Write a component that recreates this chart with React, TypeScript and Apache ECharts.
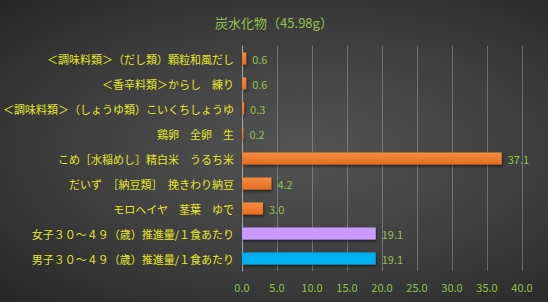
import React, { useEffect, useRef } from "react";
import * as echarts from "echarts";

const titleText = "炭水化物（45.98g）";
const categories = [
  "＜調味料類＞（だし類）顆粒和風だし",
  "＜香辛料類＞からし　練り",
  "＜調味料類＞（しょうゆ類）こいくちしょうゆ",
  "鶏卵　全卵　生",
  "こめ［水稲めし］精白米　うるち米",
  "だいず　［納豆類］　挽きわり納豆",
  "モロヘイヤ　茎葉　ゆで",
  "女子３０～４９（歳）推進量/１食あたり",
  "男子３０～４９（歳）推進量/１食あたり",
];
const values = [0.6, 0.6, 0.3, 0.2, 37.1, 4.2, 3.0, 19.1, 19.1];
const barKinds = ["food", "food", "food", "food", "food", "food", "food", "female", "male"];

const orange = new echarts.graphic.LinearGradient(0, 0, 0, 1, [
  { offset: 0, color: "#F68C40" },
  { offset: 1, color: "#E56C1F" },
]);
const kindColor: Record<string, any> = {
  food: orange,
  female: "#CC99FF",
  male: "#00B0F0",
};

export default function App() {
  const ref = useRef<HTMLDivElement>(null);
  useEffect(() => {
    document.body.style.margin = "0";
    const chart = echarts.init(ref.current!, null, { renderer: "svg" });
    const font = '"Noto Sans CJK JP", "Noto Sans", sans-serif';
    chart.setOption({
      animation: false,
      backgroundColor: "transparent",
      title: {
        text: titleText,
        left: "center",
        top: 11,
        textStyle: { color: "#8FC24A", fontSize: 13, fontWeight: "normal", fontFamily: font },
      },
      grid: { left: 242, right: 26, top: 46, bottom: 31, containLabel: false },
      xAxis: {
        type: "value",
        min: 0,
        max: 40,
        interval: 5,
        axisLine: { show: false },
        axisTick: { show: false },
        splitLine: { show: true, lineStyle: { color: "rgba(200,200,200,0.35)", width: 1 } },
        axisLabel: {
          color: "#8FC24A",
          fontSize: 11,
          fontFamily: font,
          margin: 10,
          formatter: (v: number) => v.toFixed(1),
        },
      },
      yAxis: {
        type: "category",
        inverse: true,
        data: categories,
        axisLine: { show: true, lineStyle: { color: "#A6A6A6", width: 1 } },
        axisTick: { show: false },
        axisLabel: { color: "#E6E62A", fontSize: 11, fontFamily: font, margin: 8 },
      },
      series: [
        {
          type: "bar",
          barWidth: 12,
          data: values.map((v, i) => ({
            value: v,
            itemStyle: {
              color: kindColor[barKinds[i]],
              shadowColor: "rgba(0,0,0,0.5)",
              shadowBlur: 3,
              shadowOffsetX: 1,
              shadowOffsetY: 2,
            },
          })),
          label: {
            show: true,
            position: "right",
            distance: 6,
            color: "#8FC24A",
            fontSize: 11,
            fontFamily: font,
            formatter: (p: any) => Number(p.value).toFixed(1),
          },
        },
      ],
    });
    return () => chart.dispose();
  }, []);
  return (
    <div
      style={{
        position: "absolute",
        left: 0,
        top: 0,
        width: 548,
        height: 302,
        background: "radial-gradient(ellipse at 55% 50%, #545454 0%, #3e3e3e 55%, #262626 100%)",
      }}
    >
      <div ref={ref} style={{ width: 548, height: 302 }} />
    </div>
  );
}
